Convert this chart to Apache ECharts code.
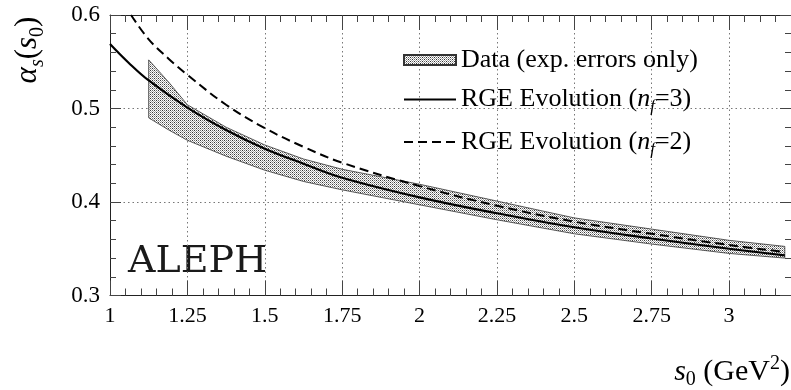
<!DOCTYPE html>
<html>
<head>
<meta charset="utf-8">
<script src="https://cdn.jsdelivr.net/npm/echarts@6/dist/echarts.min.js"></script>
<style>html,body{margin:0;padding:0;background:#fff}#c{width:791px;height:390px}</style>
</head>
<body>
<div id="c"></div>
<script>
// ---- data ----
const xTicks = [1, 1.25, 1.5, 1.75, 2, 2.25, 2.5, 2.75, 3];
const yTicks = [0.3, 0.4, 0.5, 0.6];

// Data band (exp. errors only)
const bandX    = [1.125, 1.19, 1.25, 1.375, 1.5, 1.625, 1.75, 2.0, 2.25, 2.5, 2.75, 3.0, 3.18];
const bandHigh = [0.552, 0.528, 0.504, 0.480, 0.461, 0.446, 0.435, 0.419, 0.401, 0.383, 0.371, 0.359, 0.3525];
const bandLow  = [0.490, 0.477, 0.466, 0.449, 0.434, 0.422, 0.413, 0.397, 0.381, 0.366, 0.355, 0.345, 0.340];

// RGE evolution nf=3 (solid)
const nf3X = [1.0, 1.06, 1.125, 1.25, 1.375, 1.5, 1.625, 1.75, 2.0, 2.25, 2.5, 2.75, 3.0, 3.18];
const nf3Y = [0.569, 0.549, 0.530, 0.501, 0.477, 0.457, 0.441, 0.426, 0.405, 0.388, 0.373, 0.361, 0.350, 0.343];

// RGE evolution nf=2 (dashed)
const nf2X = [1.068, 1.125, 1.19, 1.25, 1.375, 1.5, 1.625, 1.75, 2.0, 2.25, 2.5, 2.75, 3.0, 3.18];
const nf2Y = [0.600, 0.574, 0.553, 0.536, 0.504, 0.479, 0.459, 0.442, 0.417, 0.396, 0.379, 0.366, 0.354, 0.3465];

const LEG_DATA = 'Data (exp. errors only)';
const LEG_NF3 = 'RGE Evolution (nf=3)';
const LEG_NF2 = 'RGE Evolution (nf=2)';

// ---- dot pattern for the band ----
const pc = document.createElement('canvas');
pc.width = 4; pc.height = 4;
const pctx = pc.getContext('2d');
pctx.fillStyle = '#ffffff'; pctx.fillRect(0, 0, 4, 4);
pctx.fillStyle = '#333333'; pctx.fillRect(0, 0, 1, 1); pctx.fillRect(2, 2, 1, 1);
pctx.fillStyle = '#707070'; pctx.fillRect(2, 0, 1, 1); pctx.fillRect(0, 2, 1, 1);
pctx.fillStyle = '#aaaaaa'; pctx.fillRect(1, 1, 1, 1); pctx.fillRect(3, 3, 1, 1); pctx.fillRect(1, 3, 1, 1); pctx.fillRect(3, 1, 1, 1);
const dotPattern = { image: pc, repeat: 'repeat' };

const SERIF = '"Liberation Serif", "Times New Roman", serif';
const axisCol = '#222';
const tickCol = '#444';
const gridCol = '#777';
const xMin = 1, xMax = 3.2, yMin = 0.3, yMax = 0.6;

function xAx(extra) {
  return Object.assign({
    type: 'value', min: xMin, max: xMax, gridIndex: 0,
    axisLine: { show: false, lineStyle: { color: axisCol, width: 1 } },
    axisTick: { show: true, inside: true, length: 15, lineStyle: { color: tickCol, width: 1 } },
    axisLabel: { show: false },
    splitLine: { show: false }
  }, extra);
}

const chart = echarts.init(document.getElementById('c'), null, { renderer: 'canvas' });
const legendRich = {
  a: { fontFamily: SERIF, fontSize: 26, color: '#000', lineHeight: 32, verticalAlign: 'middle' },
  i: { fontFamily: SERIF, fontSize: 26, fontStyle: 'italic', color: '#000', lineHeight: 32, verticalAlign: 'middle' },
  sub: { fontFamily: SERIF, fontSize: 17, fontStyle: 'italic', color: '#000', lineHeight: 16, verticalAlign: 'bottom' }
};

const option = {
  animation: false,
  backgroundColor: '#fff',
  grid: { left: 110, top: 15, right: -3, bottom: 94.5, containLabel: false },
  xAxis: [
    xAx({
      position: 'bottom', interval: 0.25,
      axisLine: { show: true, onZero: false, lineStyle: { color: axisCol, width: 1 } },
      axisLabel: {
        show: true, margin: 10, showMaxLabel: false,
        fontFamily: SERIF, fontSize: 22, color: '#000',
        formatter: v => xTicks.indexOf(Math.round(v * 100) / 100) >= 0 ? String(Math.round(v * 100) / 100) : ''
      },
      splitLine: { show: true, lineStyle: { color: gridCol, type: [1.5, 3], width: 1 } }
    }),
    xAx({ position: 'bottom', interval: 0.05, axisTick: { show: true, inside: true, length: 7, lineStyle: { color: tickCol, width: 1 } } }),
    xAx({ position: 'top', interval: 0.25, axisLine: { show: true, onZero: false, lineStyle: { color: axisCol, width: 1 } } }),
    xAx({ position: 'top', interval: 0.05, axisTick: { show: true, inside: true, length: 7, lineStyle: { color: tickCol, width: 1 } } })
  ],
  yAxis: [
    {
      type: 'value', min: yMin, max: yMax, interval: 0.1, position: 'left',
      axisLine: { show: true, onZero: false, lineStyle: { color: axisCol, width: 1 } },
      axisTick: { show: true, inside: true, length: 11, lineStyle: { color: tickCol, width: 1 } },
      minorTick: { show: true, splitNumber: 5, length: 6, lineStyle: { color: tickCol, width: 1 } },
      axisLabel: {
        show: true, margin: 10, fontFamily: SERIF, fontSize: 23, color: '#000',
        formatter: v => { const r = Math.round(v * 10) / 10; return yTicks.indexOf(r) >= 0 ? r.toFixed(1) : ''; }
      },
      splitLine: { show: true, lineStyle: { color: gridCol, type: [1.5, 3], width: 1 } }
    },
    {
      type: 'value', min: yMin, max: yMax, interval: 0.1, position: 'right',
      axisLine: { show: true, onZero: false, lineStyle: { color: axisCol, width: 1 } },
      axisTick: { show: true, inside: true, length: 11, lineStyle: { color: tickCol, width: 1 } },
      minorTick: { show: true, splitNumber: 5, length: 6, lineStyle: { color: tickCol, width: 1 } },
      axisLabel: { show: false },
      splitLine: { show: false }
    }
  ],
  legend: {
    orient: 'vertical', left: 398, top: 42, itemWidth: 52, itemHeight: 10, itemGap: 13.5,
    selectedMode: false,
    data: [
      { name: LEG_DATA, icon: 'rect' },
      { name: LEG_NF3, itemStyle: { opacity: 0 } },
      { name: LEG_NF2, itemStyle: { opacity: 0 } }
    ],
    textStyle: { fontFamily: SERIF, fontSize: 26, color: '#000', rich: legendRich },
    formatter: function (name) {
      if (name === LEG_DATA) return '{a|Data (exp. errors only)}';
      const n = name === LEG_NF3 ? '3' : '2';
      return '{a|RGE Evolution (}{i|n}{sub|f}{a|=' + n + ')}';
    }
  },
  graphic: [
    {
      type: 'text', x: 128, y: 262, z: 0,
      style: { text: 'ALEPH', fontFamily: '"DejaVu Serif", serif', fontSize: 38, fill: '#1a1a1a', verticalAlign: 'middle', align: 'left' }
    },
    {
      type: 'text', x: 790, y: 372,
      style: {
        text: '{s|s}{sub|0}{a| (GeV}{sup|2}{a|)}', align: 'right', verticalAlign: 'middle',
        rich: {
          s: { fontFamily: SERIF, fontSize: 30, fontStyle: 'italic', fill: '#000', lineHeight: 36, verticalAlign: 'middle' },
          a: { fontFamily: SERIF, fontSize: 30, fill: '#000', lineHeight: 36, verticalAlign: 'middle' },
          sub: { fontFamily: SERIF, fontSize: 20, fill: '#000', lineHeight: 20, verticalAlign: 'bottom' },
          sup: { fontFamily: SERIF, fontSize: 20, fill: '#000', lineHeight: 16, verticalAlign: 'top' }
        }
      }
    },
    {
      type: 'text', x: 28, y: 50, rotation: Math.PI / 2,
      style: {
        text: '{g|α}{sub|s}{a|(}{g|s}{sub2|0}{a|)}', align: 'center', verticalAlign: 'middle',
        rich: {
          g: { fontFamily: SERIF, fontSize: 31, fontStyle: 'italic', fill: '#000', lineHeight: 40, verticalAlign: 'middle' },
          a: { fontFamily: SERIF, fontSize: 31, fill: '#000', lineHeight: 40, verticalAlign: 'middle' },
          sub: { fontFamily: SERIF, fontSize: 20, fontStyle: 'italic', fill: '#000', lineHeight: 16, verticalAlign: 'bottom' },
          sub2: { fontFamily: SERIF, fontSize: 20, fill: '#000', lineHeight: 18, verticalAlign: 'bottom' }
        }
      }
    }
  ],
  series: [
    {
      type: 'custom', name: LEG_DATA, xAxisIndex: 0, yAxisIndex: 0, z: 2,
      itemStyle: { color: dotPattern, borderColor: '#333', borderWidth: 0.8 },
      data: bandX.map((x, i) => [x, bandLow[i], bandHigh[i]]),
      encode: { x: 0, y: [1, 2] },
      renderItem: function (params, api) {
        if (params.dataIndex !== 0) return null;
        const pts = [];
        for (let i = 0; i < bandX.length; i++) pts.push(api.coord([bandX[i], bandHigh[i]]));
        for (let i = bandX.length - 1; i >= 0; i--) pts.push(api.coord([bandX[i], bandLow[i]]));
        return {
          type: 'polygon', shape: { points: pts },
          style: { fill: dotPattern, stroke: '#333', lineWidth: 0.8 }
        };
      }
    },
    {
      type: 'line', name: LEG_NF3, xAxisIndex: 0, yAxisIndex: 0, z: 3,
      data: nf3X.map((x, i) => [x, nf3Y[i]]),
      smooth: 0.4, symbol: 'none', showSymbol: false,
      lineStyle: { color: '#000', width: 2.2 }, itemStyle: { color: '#000' }
    },
    {
      type: 'line', name: LEG_NF2, xAxisIndex: 0, yAxisIndex: 0, z: 3,
      data: nf2X.map((x, i) => [x, nf2Y[i]]),
      smooth: 0.4, symbol: 'none', showSymbol: false,
      lineStyle: { color: '#000', width: 2, type: [9, 5] }, itemStyle: { color: '#000' }
    }
  ]
};
chart.setOption(option);
</script>
</body>
</html>
